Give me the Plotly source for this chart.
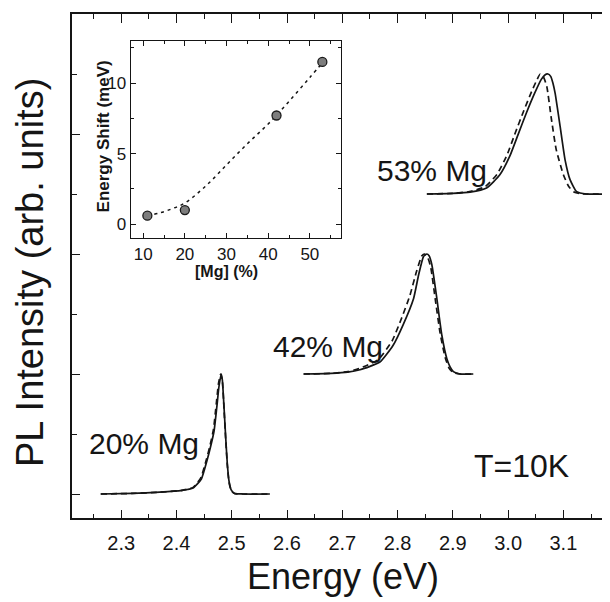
import plotly.graph_objects as go

# ---------------- data ----------------
# Stacking offsets of the three spectra (arb. units)
offsets = [0.0, 2.0, 5.0]
labels = ["20% Mg", "42% Mg", "53% Mg"]

# 20% Mg
e20_exp = [2.263, 2.32, 2.37, 2.41, 2.43, 2.445, 2.455, 2.462, 2.468, 2.473, 2.477, 2.481,
           2.483, 2.486, 2.489, 2.492, 2.495, 2.499, 2.505, 2.52, 2.569]
i20_exp = [0.0, 0.01, 0.03, 0.06, 0.10, 0.25, 0.55, 0.80, 1.05, 1.45, 1.80, 2.0,
           1.90, 1.45, 0.95, 0.50, 0.22, 0.07, 0.01, 0.0, 0.0]
e20_fit = [2.263, 2.32, 2.37, 2.41, 2.43, 2.444, 2.454, 2.461, 2.467, 2.472, 2.476, 2.480,
           2.483, 2.486, 2.489, 2.492, 2.495, 2.499, 2.505, 2.52, 2.569]
i20_fit = [0.0, 0.01, 0.03, 0.06, 0.11, 0.27, 0.57, 0.82, 1.08, 1.50, 1.84, 2.0,
           1.88, 1.42, 0.92, 0.48, 0.20, 0.06, 0.01, 0.0, 0.0]

# 42% Mg
e42_exp = [2.63, 2.68, 2.71, 2.732, 2.768, 2.792, 2.81, 2.829, 2.838, 2.847, 2.853,
           2.857, 2.862, 2.871, 2.88, 2.889, 2.895, 2.901, 2.913, 2.937]
i42_exp = [0.0, 0.01, 0.03, 0.07, 0.20, 0.48, 0.82, 1.26, 1.65, 1.96, 2.0,
           1.97, 1.82, 1.26, 0.65, 0.26, 0.12, 0.04, 0.0, 0.0]
e42_fit = [2.63, 2.68, 2.71, 2.73, 2.765, 2.79, 2.806, 2.822, 2.834, 2.844, 2.849,
           2.855, 2.86, 2.868, 2.877, 2.886, 2.893, 2.90, 2.912, 2.937]
i42_fit = [0.0, 0.01, 0.04, 0.09, 0.24, 0.55, 0.90, 1.30, 1.70, 1.97, 2.0,
           1.93, 1.78, 1.26, 0.68, 0.28, 0.10, 0.03, 0.0, 0.0]

# 53% Mg
e53_exp = [2.853, 2.90, 2.931, 2.961, 2.985, 3.003, 3.018, 3.033, 3.048, 3.06, 3.066,
           3.072, 3.077, 3.081, 3.085, 3.094, 3.103, 3.112, 3.124, 3.142, 3.19]
i53_exp = [0.0, 0.01, 0.03, 0.10, 0.32, 0.63, 0.99, 1.35, 1.68, 1.91, 1.98,
           2.0, 1.96, 1.85, 1.68, 1.13, 0.57, 0.24, 0.04, 0.0, 0.0]
e53_fit = [2.853, 2.90, 2.93, 2.958, 2.98, 2.998, 3.013, 3.028, 3.043, 3.052, 3.058,
           3.064, 3.07, 3.078, 3.087, 3.10, 3.11, 3.12, 3.135, 3.19]
i53_fit = [0.0, 0.01, 0.04, 0.12, 0.33, 0.65, 1.02, 1.38, 1.72, 1.90, 2.0,
           1.95, 1.79, 1.27, 0.74, 0.32, 0.12, 0.03, 0.0, 0.0]

# Inset: energy shift vs Mg content
mg_pct = [11, 20, 42, 53]
shift_meV = [0.6, 1.0, 7.7, 11.5]
fit_mg = [11, 14, 17, 20, 25, 30, 35, 40, 45, 50, 53.5]
fit_shift = [0.6, 0.8, 1.1, 1.5, 2.7, 4.2, 5.7, 7.1, 8.7, 10.4, 11.6]

main_xticks = [2.3, 2.4, 2.5, 2.6, 2.7, 2.8, 2.9, 3.0, 3.1]
inset_xticks = [10, 20, 30, 40, 50]
inset_yticks = [0, 5, 10]

# ---------------- figure ----------------
FONT = "Liberation Sans, Arial, sans-serif"
INK = "#151515"

fig = go.Figure()

spectra = [
    (e20_exp, i20_exp, e20_fit, i20_fit),
    (e42_exp, i42_exp, e42_fit, i42_fit),
    (e53_exp, i53_exp, e53_fit, i53_fit),
]
for (ex, ix, ef, iff), off in zip(spectra, offsets):
    fig.add_trace(go.Scatter(
        x=ex, y=[v + off for v in ix], mode="lines",
        line=dict(color=INK, width=1.7, shape="spline", smoothing=0.5),
        showlegend=False, hoverinfo="skip"))
    fig.add_trace(go.Scatter(
        x=ef, y=[v + off for v in iff], mode="lines",
        line=dict(color=INK, width=1.7, dash="6px,4px", shape="spline", smoothing=0.5),
        showlegend=False, hoverinfo="skip"))

# carriers for the top and right tick-only axes
fig.add_trace(go.Scatter(x=[], y=[], yaxis="y2", showlegend=False, hoverinfo="skip"))
fig.add_trace(go.Scatter(x=[], y=[], xaxis="x3", showlegend=False, hoverinfo="skip"))

# inset
fig.add_trace(go.Scatter(
    x=fit_mg, y=fit_shift, mode="lines", xaxis="x2", yaxis="y3",
    line=dict(color=INK, width=1.5, dash="3px,4px", shape="spline"),
    showlegend=False, hoverinfo="skip"))
fig.add_trace(go.Scatter(
    x=mg_pct, y=shift_meV, mode="markers", xaxis="x2", yaxis="y3",
    marker=dict(size=9, color="#7d7d7d", line=dict(color="#1a1a1a", width=1.3)),
    showlegend=False, hoverinfo="skip"))

xr = [2.211, 3.1843]
yr = [-0.4, 8.0]
tickfont_main = dict(size=20, family=FONT, color=INK)
fig.update_layout(
    # the page body adds an 8px offset, so the figure is 8px smaller and margins shifted
    width=602, height=594,
    margin=dict(l=64, r=0, t=6, b=84),
    paper_bgcolor="white", plot_bgcolor="white",
    font=dict(family=FONT, color=INK),
    xaxis=dict(
        range=xr, tickvals=main_xticks, ticktext=[f"{v:.1f}" for v in main_xticks],
        ticks="inside", ticklen=8, tickwidth=1.3, tickcolor=INK, ticklabelstandoff=6,
        minor=dict(dtick=0.05, tick0=2.3, ticks="inside", ticklen=4, tickwidth=1.2, tickcolor=INK),
        showline=True, linecolor=INK, linewidth=1.5, mirror=False,
        showgrid=False, zeroline=False, tickfont=tickfont_main),
    xaxis3=dict(
        range=xr, overlaying="x", side="top", anchor="y", tickvals=main_xticks,
        ticks="inside", ticklen=9, tickwidth=1.3, tickcolor=INK,
        minor=dict(dtick=0.05, tick0=2.3, ticks="inside", ticklen=5, tickwidth=1.2, tickcolor=INK),
        showline=True, linecolor=INK, linewidth=1.5, showticklabels=False,
        showgrid=False, zeroline=False),
    yaxis=dict(
        range=yr, dtick=2, tick0=0, ticks="inside", ticklen=8, tickwidth=1.3, tickcolor=INK,
        minor=dict(dtick=1, ticks="inside", ticklen=5, tickwidth=1.2, tickcolor=INK),
        showline=True, linecolor=INK, linewidth=1.5, showticklabels=False,
        showgrid=False, zeroline=False),
    yaxis2=dict(
        range=yr, overlaying="y", side="right", anchor="x", dtick=2, tick0=0,
        ticks="inside", ticklen=6, tickwidth=1.3, tickcolor=INK,
        showline=False, showticklabels=False, showgrid=False, zeroline=False),
    xaxis2=dict(
        domain=[0.1091, 0.4994], anchor="y3", range=[7, 57.4], tickvals=inset_xticks,
        ticks="inside", ticklen=5, tickwidth=1.1, tickcolor=INK,
        minor=dict(dtick=5, tick0=5, ticks="inside", ticklen=3, tickwidth=1, tickcolor=INK),
        showline=True, linecolor=INK, linewidth=1.3, mirror="ticks",
        showgrid=False, zeroline=False, tickfont=dict(size=17, family=FONT, color=INK)),
    yaxis3=dict(
        domain=[0.555, 0.947], anchor="x2", range=[-1, 13], tickvals=inset_yticks,
        ticks="inside", ticklen=5, tickwidth=1.1, tickcolor=INK,
        minor=dict(dtick=2.5, tick0=0, ticks="inside", ticklen=3, tickwidth=1, tickcolor=INK),
        showline=True, linecolor=INK, linewidth=1.3, mirror="ticks",
        showgrid=False, zeroline=False, tickfont=dict(size=17, family=FONT, color=INK)),
)

annotations = [
    dict(text="PL Intensity (arb. units)", xref="paper", yref="paper", x=-0.0781, y=0.488,
         textangle=-90, showarrow=False, font=dict(size=38, family=FONT, color=INK),
         xanchor="center", yanchor="middle"),
    dict(text="Energy (eV)", xref="paper", yref="paper", x=0.5037, y=-0.117,
         showarrow=False, font=dict(size=36, family=FONT, color=INK),
         xanchor="center", yanchor="middle"),
    dict(text="Energy Shift (meV)", xref="paper", yref="paper", x=0.0585, y=0.758,
         textangle=-90, showarrow=False, font=dict(size=17, family=FONT, color=INK, weight="bold"),
         xanchor="center", yanchor="middle"),
    dict(text="[Mg] (%)", xref="paper", yref="paper", x=0.2881, y=0.490,
         showarrow=False, font=dict(size=16, family=FONT, color=INK, weight="bold"),
         xanchor="center", yanchor="middle"),
    dict(text="T=10K", xref="x", yref="y", x=3.0233, y=0.46,
         showarrow=False, font=dict(size=32, family=FONT, color=INK),
         xanchor="center", yanchor="middle"),
]
label_pos = [(2.3416, 0.84), (2.675, 2.46), (2.862, 5.39)]
for txt, (lx, ly) in zip(labels, label_pos):
    annotations.append(dict(text=txt, xref="x", yref="y", x=lx, y=ly, showarrow=False,
                            font=dict(size=30, family=FONT, color=INK),
                            xanchor="center", yanchor="middle"))
fig.update_layout(annotations=annotations)

fig.write_html("out.html")
